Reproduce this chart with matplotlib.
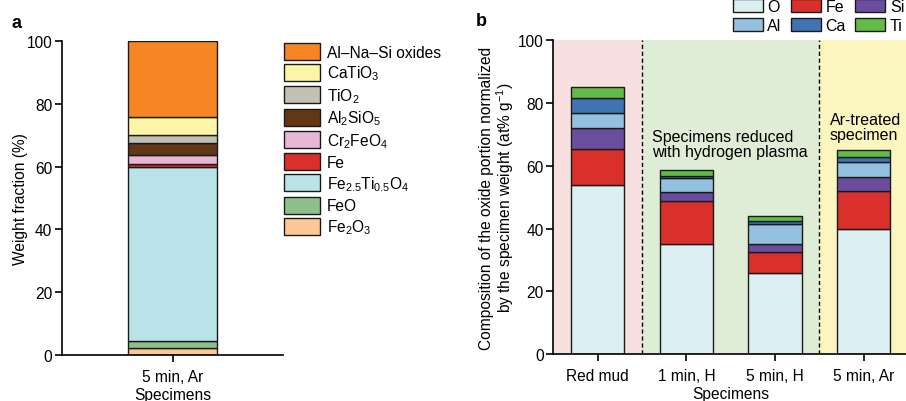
import numpy as np
import matplotlib
matplotlib.use('Agg')
import matplotlib.pyplot as plt

plt.rcParams['font.family'] = ['Liberation Sans', 'DejaVu Sans']
plt.rcParams['mathtext.fontset'] = 'custom'
plt.rcParams['mathtext.rm'] = 'Liberation Sans'
plt.rcParams['mathtext.it'] = 'Liberation Sans:italic'
plt.rcParams['font.size'] = 11.2

# Panel a data (phase fractions, bottom -> top)
phases_a = ['Fe$_2$O$_3$', 'FeO', 'Fe$_{2.5}$Ti$_{0.5}$O$_4$', 'Fe', 'Cr$_2$FeO$_4$',
            'Al$_2$SiO$_5$', 'TiO$_2$', 'CaTiO$_3$', 'Al–Na–Si oxides']
frac_a = [2.1, 2.4, 55.3, 0.9, 2.9, 4.0, 2.6, 5.6, 24.2]
colors_a = ['#fdc896', '#8fc08c', '#b9e3e9', '#d9302b', '#e7b7d5',
            '#623716', '#c1c1b5', '#fcf5a8', '#f58623']
specimen_a = ['5 min, Ar']

# Panel b data (element composition, bottom -> top)
specimens = ['Red mud', '1 min, H', '5 min, H', '5 min, Ar']
elements = ['O', 'Fe', 'Si', 'Al', 'Ca', 'Ti']
O = [53.9, 35.2, 26.0, 39.8]
Fe = [11.4, 13.7, 6.6, 12.3]
Si = [6.9, 2.8, 2.4, 4.3]
Al = [4.5, 4.4, 6.4, 4.7]
Ca = [5.0, 0.6, 1.0, 1.6]
Ti = [3.3, 2.0, 1.7, 2.4]
colors_b = ['#dcf0f3', '#d9302b', '#6b4d9e', '#93c1df', '#3f73b1', '#63bb47']

fig = plt.figure(figsize=(9.06, 4.02), dpi=100)

edge = '#1a1a1a'

# ---------------- panel a ----------------
ax1 = fig.add_axes([0.0684, 0.1144, 0.244, 0.781])
bottom = 0
handles_a = []
for name, v, c in zip(phases_a, frac_a, colors_a):
    b = ax1.bar(0, v, bottom=bottom, width=0.8, color=c, edgecolor=edge, linewidth=1, label=name)
    handles_a.append(b)
    bottom += v
ax1.set_xlim(-1, 1)
ax1.set_ylim(0, 100)
ax1.set_xticks([0])
ax1.set_xticklabels(specimen_a)
ax1.set_yticks([0, 20, 40, 60, 80, 100])
ax1.set_ylabel('Weight fraction (%)', labelpad=-1)
ax1.set_xlabel('Specimens', labelpad=2)
for s in ['top', 'right']:
    ax1.spines[s].set_visible(False)
for s in ['left', 'bottom']:
    ax1.spines[s].set_linewidth(1.2)
ax1.tick_params(direction='out', length=5, width=1.2)
ax1.tick_params(axis='x', pad=5)
ax1.tick_params(axis='y', pad=2)

fig.legend(handles_a[::-1], phases_a[::-1], loc='upper left',
           bbox_to_anchor=(284 / 906, 1 - 44 / 402), frameon=False,
           handlelength=2.3, handleheight=1.3, labelspacing=0.24,
           handletextpad=0.45, borderpad=0, borderaxespad=0)
fig.text(12 / 906, 1 - 28 / 402, 'a', fontsize=13, fontweight='bold')

# ---------------- panel b ----------------
ax2 = fig.add_axes([0.6107, 0.1162, 0.3916, 0.781])
x = np.arange(len(specimens))
ax2.axvspan(-0.5, 0.5, color='#f8dfe0', lw=0, zorder=0)
ax2.axvspan(0.5, 2.5, color='#dfecd6', lw=0, zorder=0)
ax2.axvspan(2.5, 3.6, color='#fbf5c0', lw=0, zorder=0)
ax2.axvline(0.5, color='k', ls=(0, (3, 2)), lw=1, zorder=1)
ax2.axvline(2.5, color='k', ls=(0, (3, 2)), lw=1, zorder=1)

series = [O, Fe, Si, Al, Ca, Ti]
bottoms = np.zeros(len(specimens))
bars_b = {}
for name, vals, c in zip(elements, series, colors_b):
    bars_b[name] = ax2.bar(x, vals, bottom=bottoms, width=0.6, color=c,
                           edgecolor=edge, linewidth=1, zorder=2)
    bottoms = bottoms + np.array(vals)

ax2.text(0.61, 67, 'Specimens reduced\nwith hydrogen plasma', va='center', ha='left',
         fontsize=11.5, linespacing=1.0)
ax2.text(2.62, 72.5, 'Ar-treated\nspecimen', va='center', ha='left',
         fontsize=11.5, linespacing=1.0)

ax2.set_xlim(-0.5, 3.5)
ax2.set_ylim(0, 100)
ax2.set_xticks(x)
ax2.set_xticklabels(specimens)
ax2.set_yticks([0, 20, 40, 60, 80, 100])
ax2.set_ylabel('Composition of the oxide portion normalized\nby the specimen weight (at% g$^{-1}$)',
               labelpad=1, linespacing=1.05)
ax2.set_xlabel('Specimens', labelpad=2)
for s in ['top', 'right']:
    ax2.spines[s].set_visible(False)
for s in ['left', 'bottom']:
    ax2.spines[s].set_linewidth(1.2)
ax2.tick_params(direction='out', length=5, width=1.2)
ax2.tick_params(axis='x', pad=5)
ax2.tick_params(axis='y', pad=2)

order = ['O', 'Al', 'Fe', 'Ca', 'Si', 'Ti']
handles_b = [bars_b[k] for k in order]
fig.legend(handles_b, order, loc='upper left', ncol=3,
           bbox_to_anchor=(733 / 906, 1 + 0 / 402), frameon=False,
           handlelength=1.85, handleheight=0.9, labelspacing=0.25,
           handletextpad=0.3, columnspacing=0.6, borderpad=0, borderaxespad=0,
           fontsize=11.5)
fig.text(476 / 906, 1 - 26 / 402, 'b', fontsize=13, fontweight='bold')

fig.savefig('out.png', dpi=100)
